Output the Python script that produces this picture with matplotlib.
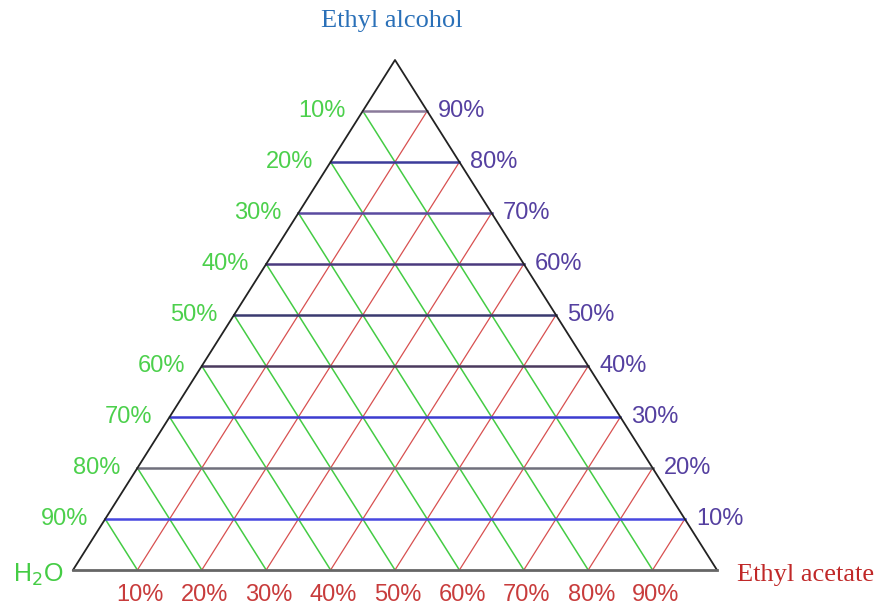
import matplotlib
matplotlib.use("Agg")
import matplotlib.pyplot as plt
import numpy as np

# ternary grid levels (fraction of each component)
levels = [0.1, 0.2, 0.3, 0.4, 0.5, 0.6, 0.7, 0.8, 0.9]
water_labels = ['10%', '20%', '30%', '40%', '50%', '60%', '70%', '80%', '90%']
acetate_labels = ['10%', '20%', '30%', '40%', '50%', '60%', '70%', '80%', '90%']
alcohol_labels = ['10%', '20%', '30%', '40%', '50%', '60%', '70%', '80%', '90%']
corner_names = ['H$_2$O', 'Ethyl acetate', 'Ethyl alcohol']

# colours of the horizontal (alcohol) lines, 10% .. 90%
hcolors = ['#4848e0', '#70707c', '#3c3cd0', '#4a3a5e', '#3a3a70',
           '#4a3a7e', '#5a4aa0', '#3c3c9a', '#8a7a9a']

# triangle corners in figure pixels: water, acetate, alcohol
A = np.array([73., 570.])
B = np.array([717., 570.])
C = np.array([395., 60.])


def tern(a, b, c):
    # a = water, b = acetate, c = alcohol
    return a * A + b * B + c * C


fig = plt.figure(figsize=(8.82, 6.07), dpi=100)
ax = fig.add_axes([0, 0, 1, 1])
ax.set_xlim(0, 882)
ax.set_ylim(607, 0)
ax.axis('off')

# green lines: constant water
for a in levels:
    p1 = tern(a, 0, 1 - a)
    p2 = tern(a, 1 - a, 0)
    ax.plot([p1[0], p2[0]], [p1[1], p2[1]], color='#44cc44', lw=1.1, zorder=2)

# red lines: constant acetate
for b in levels:
    p1 = tern(1 - b, b, 0)
    p2 = tern(0, b, 1 - b)
    ax.plot([p1[0], p2[0]], [p1[1], p2[1]], color='#d85050', lw=0.9, zorder=2)

# horizontal lines: constant alcohol
for c, col in zip(levels, hcolors):
    p1 = tern(1 - c, 0, c)
    p2 = tern(0, 1 - c, c)
    ax.plot([p1[0], p2[0]], [p1[1], p2[1]], color=col, lw=1.8, zorder=3)

# triangle outline
ax.plot([A[0], C[0], B[0]], [A[1], C[1], B[1]], color='#222222', lw=1.3, zorder=4)
ax.plot([A[0], B[0]], [A[1], B[1]], color='#666666', lw=2.0, zorder=4)

pfont = dict(family=['Liberation Sans', 'DejaVu Sans'], fontsize=17)

# left labels (water)
for a, lab in zip(levels, water_labels):
    p = tern(a, 0, 1 - a)
    ax.text(p[0] - 17, p[1], lab, color='#4cd04c', ha='right', va='center', **pfont)

# right labels (alcohol)
for c, lab in zip(levels, alcohol_labels):
    p = tern(0, 1 - c, c)
    ax.text(p[0] + 11, p[1], lab, color='#5540a0', ha='left', va='center', **pfont)

# bottom labels (acetate)
for b, lab in zip(levels, acetate_labels):
    p = tern(1 - b, b, 0)
    ax.text(p[0] + 3, p[1] + 25, lab, color='#c83c3c', ha='center', va='center', **pfont)

# corner names
ax.text(A[0] - 35, A[1] + 5, corner_names[0], color='#44cc44', ha='center', va='center',
        family=['Liberation Sans', 'DejaVu Sans'], fontsize=18)
ax.text(B[0] + 20, B[1] + 5, corner_names[1], color='#c02828', ha='left', va='center',
        family=['Liberation Serif', 'DejaVu Serif'], fontsize=19)
ax.text(C[0] - 3, 21, corner_names[2], color='#2a70b8', ha='center', va='center',
        family=['Liberation Serif', 'DejaVu Serif'], fontsize=19)

fig.savefig('out.png', dpi=100)
